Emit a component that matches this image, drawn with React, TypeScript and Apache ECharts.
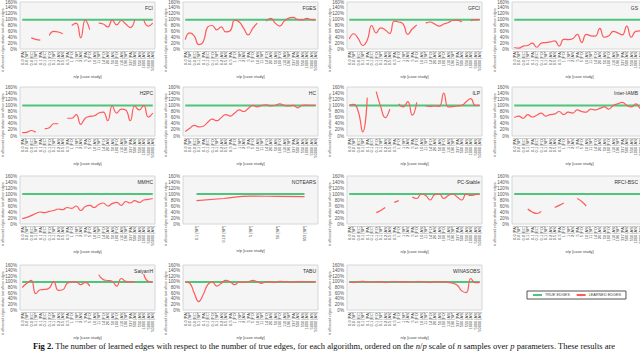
import React, { useEffect, useRef } from "react";
import * as echarts from "echarts";

const categories = [
  "0.0 [PA]", "0.0 [SP]", "0.0 [EC]", "0.1 [SP]", "0.1 [PA]", "0.1 [EC]", "0.1 [FO]", "0.1 [SP]",
  "0.2 [AS]", "0.5 [AS]", "0.5 [PA]", "1 [FO]", "1 [SP]", "2 [AS]", "5 [PA]", "5 [FO]",
  "10 [AS]", "11 [SP]", "14 [FO]", "20 [AS]", "50 [AS]", "100 [FO]", "110 [AS]", "196 [SP]",
  "327 [PA]", "500 [AS]", "550 [AS]", "1000 [AS]", "5000 [AS]", "50000 [AS]",
];
const notearsCategories = ["0.1 [SP]", "0.19 [SP]", "5 [SP]", "50 [SP]", "953 [SP]"];

const algorithms = [
  "FCI", "FGES", "GFCI", "GS", "H2PC", "HC", "ILP", "Inter-IAMB",
  "MMHC", "NOTEARS", "PC-Stable", "RFCI-BSC", "SaiyanH", "TABU", "WINASOBS",
];

const TRUE_EDGES_PCT = 100;

const fci = [null, null, 38, 33, 30, null, 46, 60, 58, 52, null, 80, 88, 38, 98, 66, null, 88, 85, 75, 98, 82, 97, 85, 73, 100, null, 100, 78, 88];
const fges = [32, 55, 45, 15, 25, 75, 80, 65, 75, 58, 62, 98, 92, 70, 48, 70, 88, null, 95, 104, 88, 78, 95, 105, 108, 100, 99, 104, 100, 99];
const gfci = [34, 52, 35, 12, 30, 80, 55, 72, 65, 53, 95, 92, 85, 50, 68, 82, null, 88, 92, 85, 78, 85, 90, 97, 98, 92, null, 96, 100, 100];
const gs = [5, 3, 10, 12, 20, 6, 20, 22, 24, 28, 10, 33, 32, 35, 50, 22, 50, 45, 44, 70, 40, 45, 60, 55, 48, 78, 40, 60, 62, 60];
const h2pc = [11, 12, 18, 12, null, 24, 27, 40, 40, null, 58, 58, 70, 38, 58, 64, 66, 75, 78, 50, 98, 75, 88, 85, 50, 98, 85, 100, 62, 75];
const hc = [15, 25, 35, 30, 32, 45, 55, 50, 60, 70, 65, 75, 85, 80, 90, 100, 95, 100, 102, 98, 100, 105, 100, 98, 100, 92, 100, 101, 100, 100];
const ilp = [100, 103, 80, 13, 125, null, 145, 95, 60, 88, null, 105, 95, 112, 68, 110, null, 98, 97, 98, 97, 140, 95, 96, 98, 100, 112, 122, 100, 100];
const interIamb = [60, 65, 58, 70, 62, 68, 75, 65, 70, 72, 80, 70, 78, 75, 85, 80, 78, 88, 85, 90, 95, 88, 100, 105, 110, 100, 95, 105, 90, 80];
const mmhc = [18, 22, 28, 35, 40, 38, 42, 45, 50, 48, 55, 52, 60, 45, 58, 62, 55, 65, 70, 60, 68, 72, 62, 75, 70, 78, 72, 80, 82, 85];
const notears = [78, 85, 93, 92, 91];
const pcStable = [null, null, null, null, null, null, 38, 45, 55, null, 72, 78, null, null, 90, 85, 100, 95, 80, 98, 100, 85, 95, 100, 90, 80, 100, 95, 98, 100];
const rfciBsc = [null, null, null, 50, 40, 35, 42, null, null, 55, 62, 70, null, null, 85, 75, 60, null, null, null, null, null, null, null, null, null, null, null, null, null];
const saiyanH = [80, 95, 105, 58, 72, 73, 78, 102, 70, 72, 95, 100, 100, 90, 98, 85, null, 125, 108, 105, 102, 85, 112, 102, 100, 100, null, 128, 102, 100];
const tabu = [100, 95, 60, 30, 55, 90, 100, 85, 95, 105, 100, 90, 100, 98, 100, 105, 100, 95, 100, 100, 98, 102, 100, 100, 99, 100, 101, 100, 100, 100];
const winasobs = [100, 98, 100, 102, 100, 99, 100, 100, 98, 100, 101, 100, 100, 100, 99, 100, 100, 100, 98, 100, 100, 100, 98, 95, 88, 68, 62, 112, 97, 98];

const learnedEdges = [fci, fges, gfci, gs, h2pc, hc, ilp, interIamb, mmhc, notears, pcStable, rfciBsc, saiyanH, tabu, winasobs];

const COL_LEFT = [20, 183, 347, 512];
const ROW_TOP = [2, 87, 176, 265];
const ROW_H = [47, 49, 48, 45];
const PLOT_W = 135;

const FONT = "Liberation Sans";
const SERIF = "Liberation Serif";
const GREEN = "#4fc47b";
const RED = "#ff5a5a";

export default function App() {
  const ref = useRef<HTMLDivElement>(null);
  useEffect(() => {
    if (!ref.current) return;
    const chart = echarts.init(ref.current, null, { renderer: "svg" });
    const grids: any[] = [];
    const xAxes: any[] = [];
    const yAxes: any[] = [];
    const series: any[] = [];
    const graphics: any[] = [];
    algorithms.forEach((name, i) => {
      const col = i % 4;
      const row = Math.floor(i / 4);
      const left = COL_LEFT[col];
      const top = ROW_TOP[row];
      const height = ROW_H[row];
      const cats = name === "NOTEARS" ? notearsCategories : categories;
      grids.push({
        left, top, width: PLOT_W, height, show: true, containLabel: false,
        outerBoundsMode: "none",
        backgroundColor: "#f5f5f5", borderColor: "#d6d6d6", borderWidth: 1,
      });
      xAxes.push({
        type: "category", gridIndex: i, data: cats, boundaryGap: true,
        axisLine: { show: false }, axisTick: { show: false },
        axisLabel: { rotate: 90, fontSize: 4, color: "#444", interval: 0, margin: 2, fontFamily: FONT },
        name: "n/p [case study]", nameLocation: "middle", nameGap: 24,
        nameTextStyle: { fontSize: 4, color: "#444", fontFamily: FONT },
      });
      yAxes.push({
        type: "value", gridIndex: i, min: 0, max: 160, interval: 20,
        axisLine: { show: false }, axisTick: { show: false }, splitLine: { show: false },
        axisLabel: { formatter: "{value}%", fontSize: 4.6, color: "#555", margin: 3, fontFamily: FONT },
      });
      series.push({
        type: "line", name: "TRUE EDGES", xAxisIndex: i, yAxisIndex: i,
        data: cats.map(() => TRUE_EDGES_PCT), symbol: "none",
        lineStyle: { color: GREEN, width: 2 }, itemStyle: { color: GREEN },
      });
      series.push({
        type: "line", name: "LEARNED EDGES", xAxisIndex: i, yAxisIndex: i,
        data: learnedEdges[i], symbol: "none", smooth: 0.5, connectNulls: false,
        lineStyle: { color: RED, width: 1.2 }, itemStyle: { color: RED },
      });
      graphics.push({
        type: "text", x: Math.min(left + PLOT_W - 2, 638), y: top + 3,
        style: { text: name, fontSize: 5, fill: "#333", fontFamily: FONT, textAlign: "right", textVerticalAlign: "top" },
      });
      graphics.push({
        type: "text", x: left - 17, y: top + 38, rotation: Math.PI / 2,
        style: {
          text: "# of learned edges relative to # of true edges", fontSize: 3.2, fill: "#444",
          fontFamily: FONT, textAlign: "center", textVerticalAlign: "middle",
        },
      });
    });
    const cap = { fontSize: 8.5, fontFamily: SERIF, fill: "#111", color: "#111" };
    graphics.push({
      type: "text", x: 33, y: 341,
      style: {
        text: "{b|Fig 2.}{r| The number of learned edges with respect to the number of true edges, for each algorithm, ordered on the }{i|n}{r|/}{i|p}{r| scale of }{i|n}{r| samples over }{i|p}{r| parameters. These results are}",
        ...cap,
        rich: {
          b: { ...cap, fontWeight: "bold" },
          i: { ...cap, fontStyle: "italic" },
          r: { ...cap },
        },
      },
    });
    chart.setOption({
      animation: false,
      backgroundColor: "#ffffff",
      grid: grids,
      xAxis: xAxes,
      yAxis: yAxes,
      series,
      graphic: graphics,
      legend: {
        data: ["TRUE EDGES", "LEARNED EDGES"],
        left: 527, top: 291, itemWidth: 9, itemHeight: 3, itemGap: 6,
        borderColor: "#555", borderWidth: 1, padding: [2, 5],
        textStyle: { fontSize: 3.8, color: "#444", fontFamily: FONT, padding: [0, 0, 0, -2] },
      },
    });
    return () => chart.dispose();
  }, []);
  return <div ref={ref} style={{ position: "fixed", left: 0, top: 0, width: 640, height: 352 }} />;
}
